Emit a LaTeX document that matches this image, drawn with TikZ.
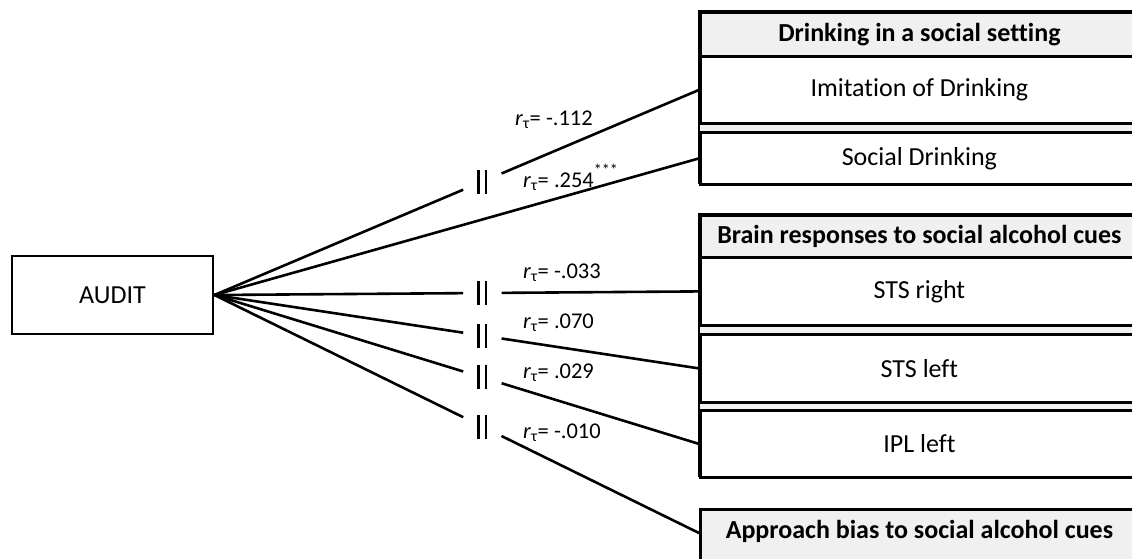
\documentclass[tikz,border=0pt]{standalone}
\usepackage{fontspec}
\setmainfont{Carlito}[Ligatures=NoCommon]
\usetikzlibrary{calc}
\definecolor{hdrgray}{RGB}{240,240,240}
\newcommand{\brkbars}{\rule{2.8pt}{24pt}\hspace{4.5pt}\rule{2.8pt}{24pt}}
\newcommand{\rtau}{\textit{r}\textsubscript{τ}}
\tikzset{
  cell/.style={draw, line width=2.8pt, fill=white, minimum width=438pt, anchor=north west, inner sep=0pt, font=\fontsize{26}{30}\selectfont},
  hdr/.style={cell, fill=hdrgray, font=\fontsize{26}{30}\selectfont\bfseries},
  lab/.style={anchor=west, inner sep=0pt, font=\fontsize{22.5}{26}\selectfont},
  brk/.style={inner sep=0pt, minimum width=38pt, minimum height=26pt},
  link/.style={line width=2.6pt}
}

\begin{document}
\begin{tikzpicture}[x=1pt,y=-1pt]
\useasboundingbox (0,0) rectangle (1132,558);
\clip (0,0) rectangle (1132,558);
\draw[line width=2.8pt, fill=hdrgray] (699,11) rectangle (1137,183);
\node[hdr, minimum height=44pt] (hdrDrink) at (699,11) {Drinking in a social setting};
\node[cell, minimum height=67pt] (imit) at (699,55) {Imitation of Drinking};
\node[cell, minimum height=52pt] (socdr) at (699,131) {Social Drinking};
\draw[line width=2.8pt, fill=hdrgray] (699,214) rectangle (1137,476);
\node[hdr, minimum height=42pt] (hdrBrain) at (699,214) {Brain responses to social alcohol cues};
\node[cell, minimum height=68pt] (stsR) at (699,256) {STS right};
\node[cell, minimum height=68pt] (stsL) at (699,333) {STS left};
\node[cell, minimum height=67pt] (iplL) at (699,409) {IPL left};
\node[hdr, text height=29pt, text depth=33pt] (hdrAppr) at (699,508) {Approach bias to social alcohol cues};
\coordinate (apprIn) at ([yshift=-25pt]hdrAppr.north west);
\node[draw, line width=2.8pt, minimum width=201pt, minimum height=78pt, inner sep=0pt, font=\fontsize{26}{30}\selectfont] (audit) at (112.5,295) {AUDIT};
\node[brk] (brk1) at ($(audit.east)!0.553!(imit.west)$) {\brkbars};
\node[brk] (brk3) at ($(audit.east)!0.553!(stsR.west)$) {\brkbars};
\node[brk] (brk4) at ($(audit.east)!0.553!(stsL.west)$) {\brkbars};
\node[brk] (brk5) at ($(audit.east)!0.553!(iplL.west)$) {\brkbars};
\node[brk] (brk6) at ($(audit.east)!0.553!(apprIn)$) {\brkbars};
\draw[link] (audit.east) -- (brk1) -- (imit.west);
\draw[link] (audit.east) -- (socdr.west);
\draw[link] (audit.east) -- (brk3) -- (stsR.west);
\draw[link] (audit.east) -- (brk4) -- (stsL.west);
\draw[link] (audit.east) -- (brk5) -- (iplL.west);
\draw[link] (audit.east) -- (brk6) -- (apprIn);
\node[lab] (r1) at (515,120) {\rtau= -.112};
\node[lab] (r2) at (523,177) {\rtau= .254\raisebox{1.1ex}{\fontsize{16}{16}\selectfont ***}};
\node[lab] (r3) at (523,273) {\rtau= -.033};
\node[lab] (r4) at (523,323) {\rtau= .070};
\node[lab] (r5) at (523,373) {\rtau= .029};
\node[lab] (r6) at (523,433) {\rtau= -.010};
\end{tikzpicture}
\end{document}
